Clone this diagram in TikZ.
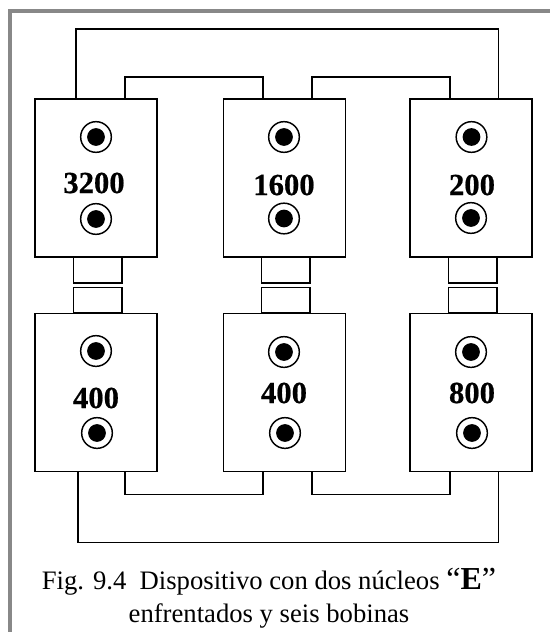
\documentclass[tikz,border=0pt]{standalone}
\usepackage{fontspec}
\setmainfont{Liberation Serif}
\newfontfamily\heavyfont[FakeBold=0.6]{Liberation Serif Bold}
\usetikzlibrary{calc}
\definecolor{framegray}{RGB}{136,136,136}

\tikzset{
  core/.style={draw, line width=1.1pt, fill=white, inner sep=0pt, outer sep=0pt, minimum width=91.5pt, minimum height=118.5pt},
  neck/.style={draw, line width=1.1pt, inner sep=0pt, outer sep=0pt, minimum width=36.4pt, minimum height=19.2pt},
  coilring/.style={circle, draw, line width=1.1pt, inner sep=0pt, minimum size=23pt},
  coildot/.style={circle, fill=black, inner sep=0pt, minimum size=13.3pt},
  wire/.style={line width=1.1pt, line join=miter},
  turns/.style={font=\fontsize{23}{24}\selectfont\heavyfont},
  caption/.style={font=\fontsize{20}{24}\selectfont, inner sep=0pt, anchor=base}
}

\begin{document}
\begin{tikzpicture}[x=0.75pt,y=-0.75pt]
\useasboundingbox (0,0) rectangle (550,632);

% Gray frame, top and left only
\fill[framegray] (8,9) rectangle (550,13);
\fill[framegray] (8,9) rectangle (12,632);

% Core blocks
\node[core] (coreA) at (96,178) {};
\node[core] (coreB) at (284.5,178) {};
\node[core] (coreC) at (471,178) {};
\node[core] (coreD) at (96,392.5) {};
\node[core] (coreE) at (284.5,392.5) {};
\node[core] (coreF) at (471,392.5) {};

% Legs between upper and lower blocks
\foreach \n/\x in {A/97.75,B/285.75,C/472.5} {
  \node[neck] (neckup\n) at (\x,270) {};
  \node[neck] (neckdn\n) at (\x,300.25) {};
}

% Coils
\foreach \n/\x/\y in {a/96/137,b/96/219,c/284/137,d/284/218.5,e/471.5/137,f/471/218,
                      g/96/351,h/97/433,i/284/352,j/285/433,k/471/352,l/472/433} {
  \node[coilring] (ring\n) at (\x,\y) {};
  \node[coildot] (dot\n) at (ring\n) {};
}

% Turns of each block
\node[turns] (turnsA) at (94,183) {3200};
\node[turns] (turnsB) at (284,185) {1600};
\node[turns] (turnsC) at (472,185) {200};
\node[turns] (turnsD) at (96,398) {400};
\node[turns] (turnsE) at (284,393) {400};
\node[turns] (turnsF) at (472,393) {800};

% Upper wires
\draw[wire] ($(coreA.north west)+(41,0)$) -- ++(0,-70) -| ($(coreC.north west)+(88.5,0)$);
\draw[wire] ($(coreA.north west)+(90,0)$) -- ++(0,-22) -| ($(coreB.north west)+(39.5,0)$);
\draw[wire] ($(coreB.north west)+(88.5,0)$) -- ++(0,-22) -| ($(coreC.north west)+(40,0)$);

% Lower wires
\draw[wire] ($(coreD.south west)+(43,0)$) -- ++(0,71) -| ($(coreF.south west)+(88.5,0)$);
\draw[wire] ($(coreD.south west)+(90,0)$) -- ++(0,23) -| ($(coreE.south west)+(39.5,0)$);
\draw[wire] ($(coreE.south west)+(88.5,0)$) -- ++(0,23) -| ($(coreF.south west)+(40,0)$);

% Caption
\node[caption] (capA) at (269,589) {Fig. 9.4\ \ Dispositivo con dos núcleos {\fontsize{24}{24}\selectfont “{\bfseries E}”}};
\node[caption] (capB) at (269,622) {enfrentados y seis bobinas};

\end{tikzpicture}
\end{document}
